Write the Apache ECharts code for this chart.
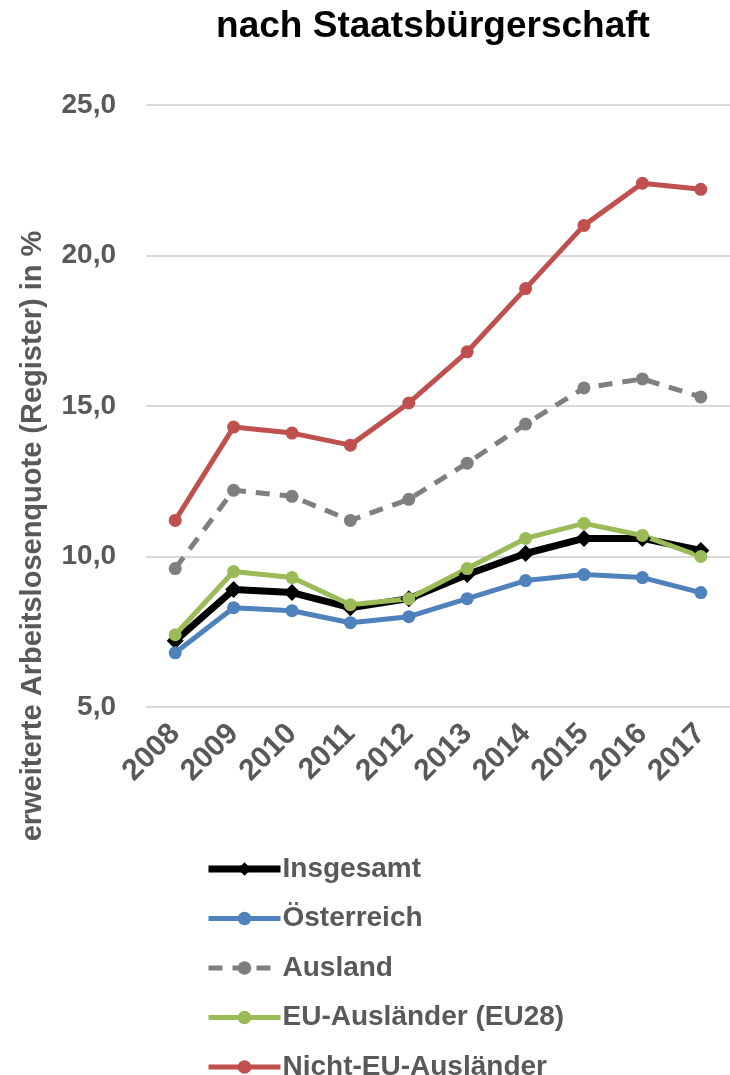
<!DOCTYPE html>
<html><head><meta charset="utf-8">
<script src="https://cdn.jsdelivr.net/npm/echarts@6/dist/echarts.min.js"></script>
<style>html,body{margin:0;padding:0;background:#fff}#c{width:730px;height:1075px}</style>
</head><body><div id="c"></div>
<script>
const years = ['2008','2009','2010','2011','2012','2013','2014','2015','2016','2017'];
const insgesamt = [7.2, 8.9, 8.8, 8.3, 8.6, 9.4, 10.1, 10.6, 10.6, 10.2];
const oesterreich = [6.8, 8.3, 8.2, 7.8, 8.0, 8.6, 9.2, 9.4, 9.3, 8.8];
const ausland = [9.6, 12.2, 12.0, 11.2, 11.9, 13.1, 14.4, 15.6, 15.9, 15.3];
const euAuslaender = [7.4, 9.5, 9.3, 8.4, 8.6, 9.6, 10.6, 11.1, 10.7, 10.0];
const nichtEu = [11.2, 14.3, 14.1, 13.7, 15.1, 16.8, 18.9, 21.0, 22.4, 22.2];
const seriesNames = ['Insgesamt','Österreich','Ausland','EU-Ausländer (EU28)','Nicht-EU-Ausländer'];

const FONT = '"Liberation Sans", Arial, sans-serif';
const GREY = '#595959';
const chart = echarts.init(document.getElementById('c'), null, {renderer:'canvas'});

function line(name, data, color, opts) {
  return Object.assign({
    name, type:'line', data,
    symbol:'circle', symbolSize:13,
    lineStyle:{color, width:5},
    itemStyle:{color},
    emphasis:{disabled:true},
    animation:false
  }, opts || {});
}

chart.setOption({
  animation:false,
  title:{
    text:'nach Staatsbürgerschaft', left:428, textAlign:'center', top:3,
    textStyle:{fontFamily:FONT, fontWeight:'bold', fontSize:37, color:'#000'}
  },
  grid:{left:146, right:-9, top:105, bottom:368, containLabel:false},
  xAxis:{
    type:'category', data:years, boundaryGap:true,
    axisLine:{show:false}, axisTick:{show:false},
    axisLabel:{rotate:45, margin:22, fontFamily:FONT, fontWeight:'bold', fontSize:30, color:GREY, interval:0}
  },
  yAxis:{
    type:'value', min:5, max:25, interval:5,
    axisLine:{show:false}, axisTick:{show:false},
    splitLine:{lineStyle:{color:'#D9D9D9', width:2}},
    axisLabel:{margin:30, fontFamily:FONT, fontWeight:'bold', fontSize:28, color:GREY,
      formatter:v=>v.toFixed(1).replace('.',',')}
  },
  legend:{
    orient:'vertical', left:205, top:855, height:300, padding:0, itemWidth:72, itemHeight:17, itemGap:21.5,
    data:[
      {name:seriesNames[0], lineStyle:{width:7}},
      {name:seriesNames[1], lineStyle:{width:5}},
      {name:seriesNames[2], lineStyle:{width:5}},
      {name:seriesNames[3], lineStyle:{width:5}},
      {name:seriesNames[4], lineStyle:{width:5}}
    ],
    textStyle:{fontFamily:FONT, fontWeight:'bold', fontSize:28, color:GREY, padding:[0,0,0,-3]}
  },
  graphic:[{
    type:'text', x:33, y:536, rotation:Math.PI/2,
    style:{text:'erweiterte Arbeitslosenquote (Register) in %', fill:GREY,
      font:'bold 29px "Liberation Sans", Arial, sans-serif', textAlign:'center', textVerticalAlign:'middle'}
  }],
  series:[
    line(seriesNames[0], insgesamt, '#000000', {symbol:'diamond', symbolSize:17, lineStyle:{color:'#000', width:7}}),
    line(seriesNames[1], oesterreich, '#4F81BD'),
    line(seriesNames[2], ausland, '#7F7F7F', {lineStyle:{color:'#7F7F7F', width:5, type:[14,10]}}),
    line(seriesNames[3], euAuslaender, '#9BBB59'),
    line(seriesNames[4], nichtEu, '#C0504D')
  ]
});
</script></body></html>
